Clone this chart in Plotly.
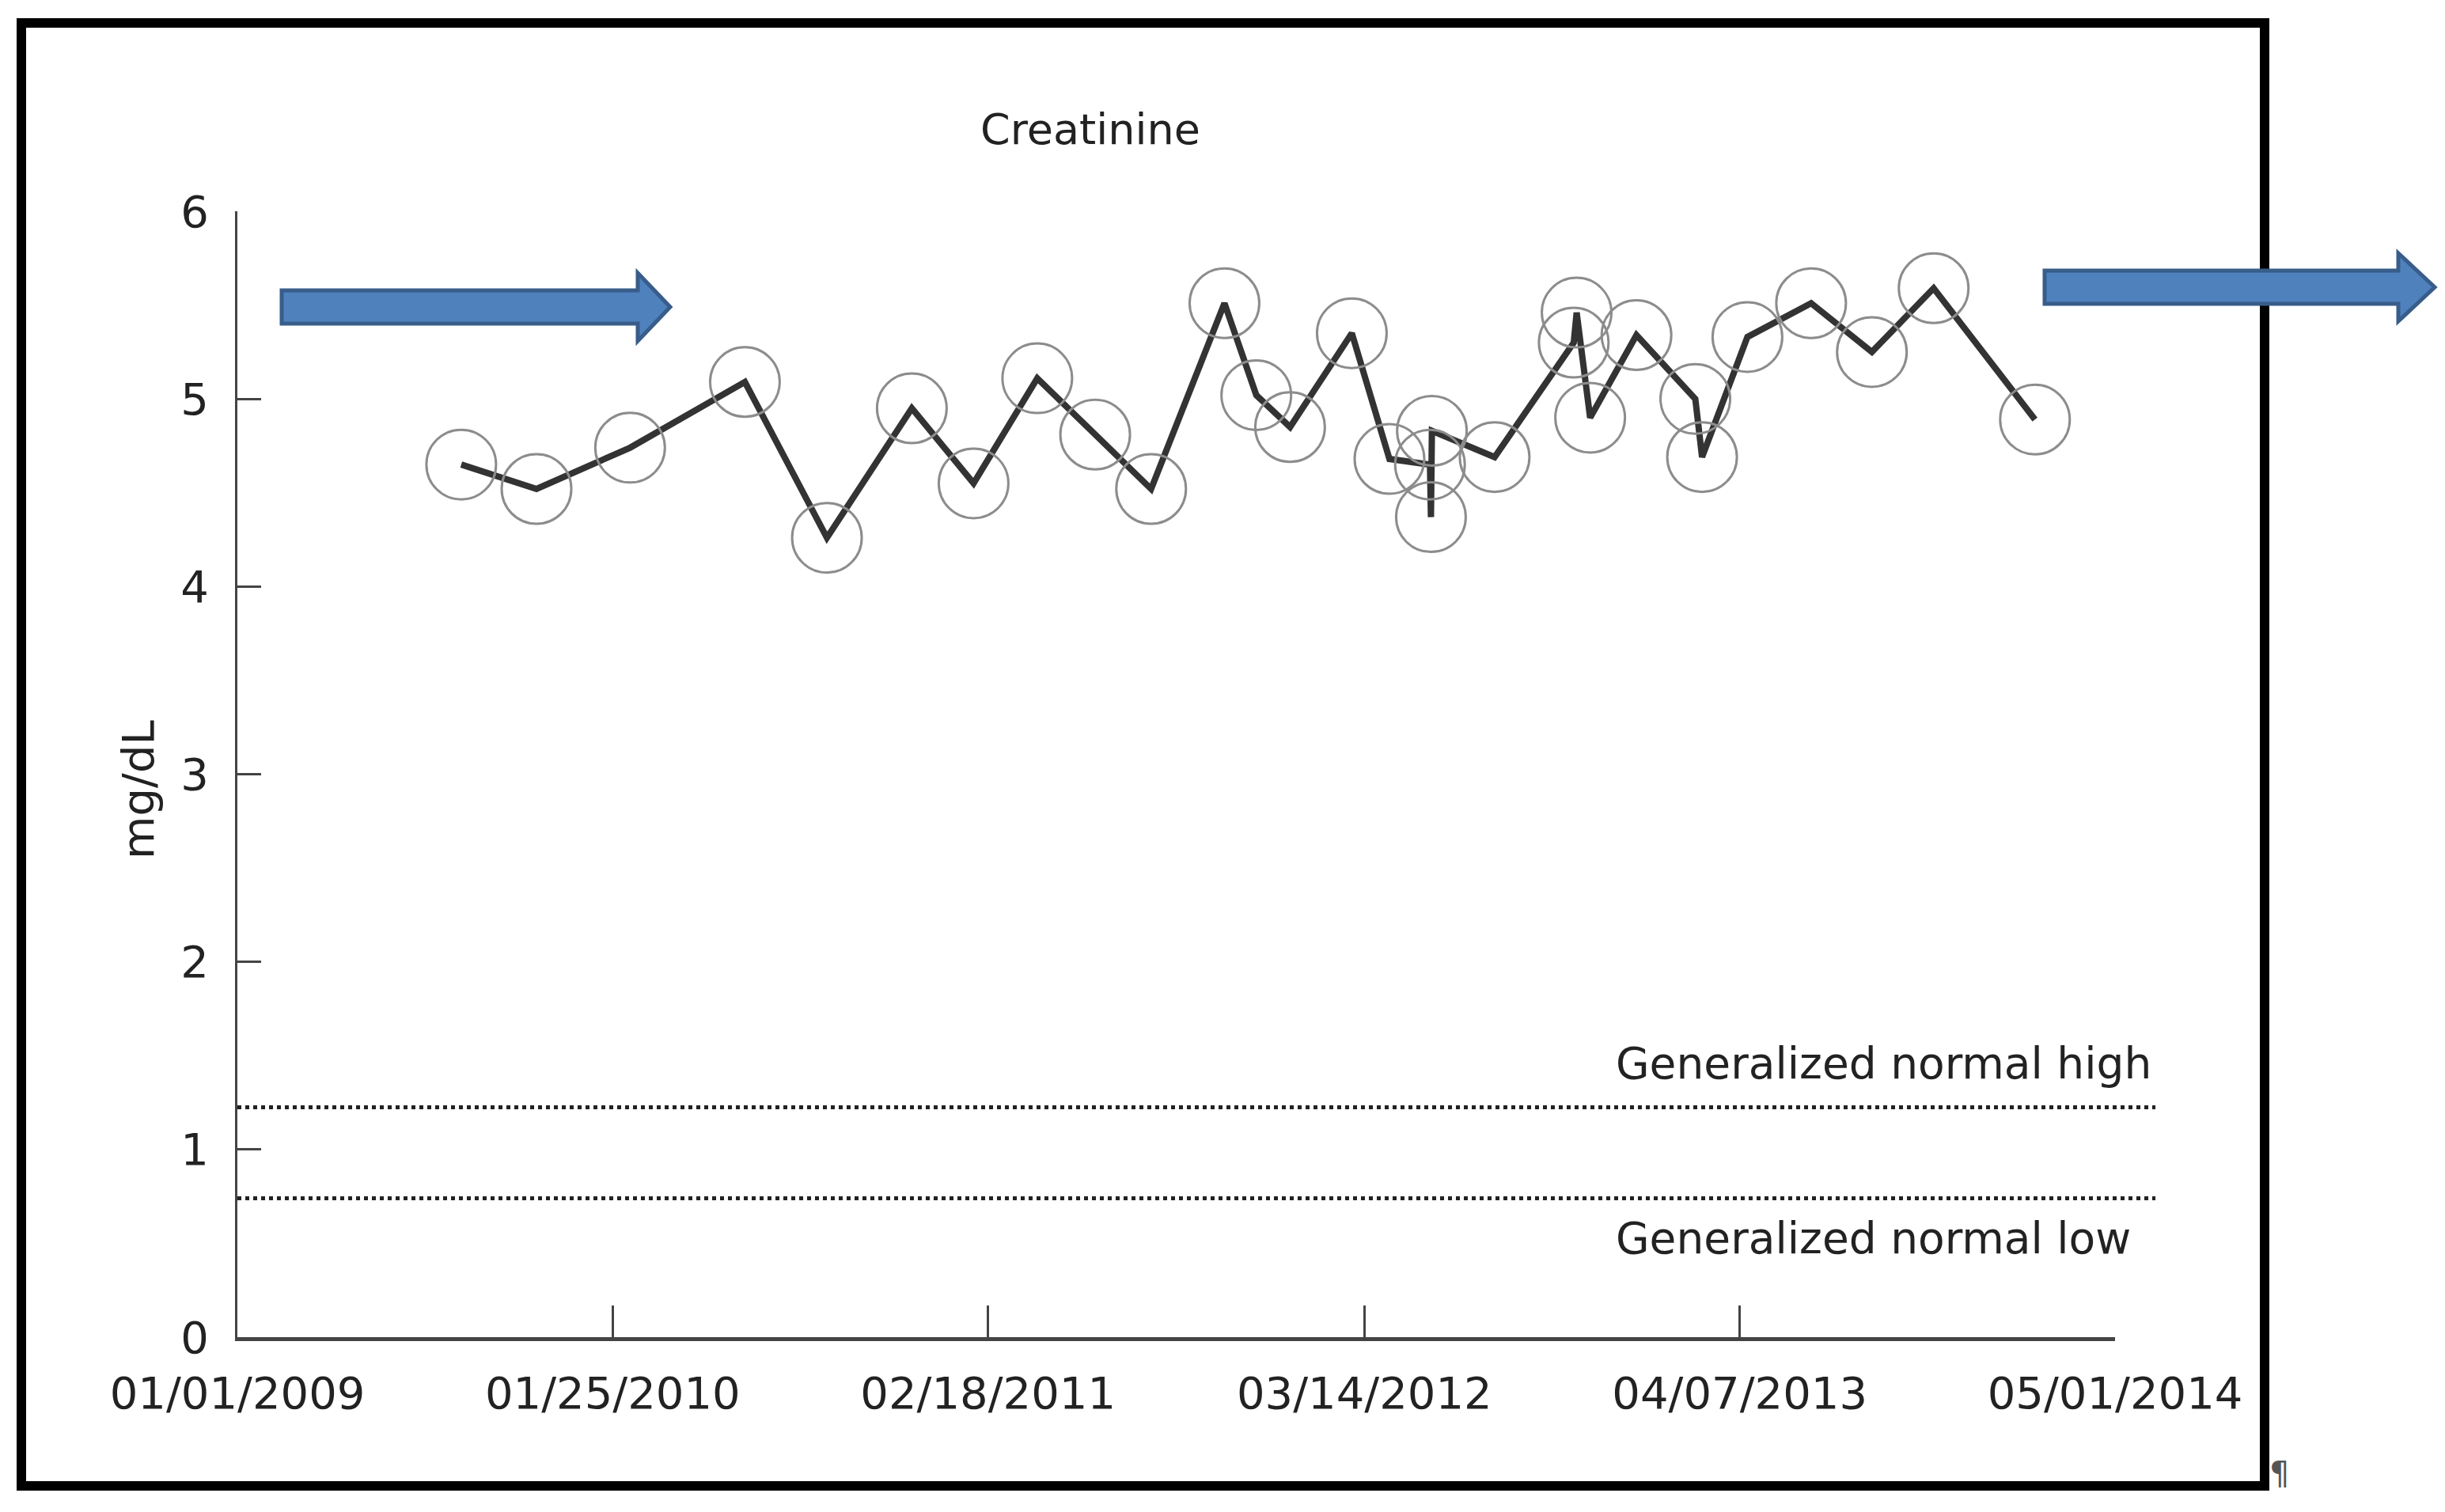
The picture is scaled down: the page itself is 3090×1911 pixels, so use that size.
import plotly.graph_objects as go

dates = [
    "2009-08-21", "2009-11-07", "2010-02-12", "2010-06-11", "2010-09-04",
    "2010-12-01", "2011-02-03", "2011-04-10", "2011-06-09", "2011-08-06",
    "2011-10-21", "2011-11-23", "2011-12-28", "2012-03-01", "2012-04-09",
    "2012-05-21", "2012-05-22", "2012-05-23", "2012-07-27", "2012-10-17",
    "2012-10-20", "2012-11-03", "2012-12-21", "2013-02-20", "2013-02-27",
    "2013-04-15", "2013-06-20", "2013-08-22", "2013-10-25", "2014-02-07",
]
creatinine = [
    4.65, 4.52, 4.74, 5.09, 4.26,
    4.95, 4.55, 5.11, 4.81, 4.52,
    5.51, 5.02, 4.85, 5.35, 4.68,
    4.65, 4.37, 4.83, 4.69, 5.30,
    5.46, 4.90, 5.34, 5.00, 4.69,
    5.33, 5.51, 5.25, 5.59, 4.89,
]

x_ticks = ["2009-01-01", "2010-01-25", "2011-02-18", "2012-03-14", "2013-04-07", "2014-05-01"]
y_ticks = [0, 1, 2, 3, 4, 5, 6]
normal_high = 1.225
normal_low = 0.74

# page is 3090x1911, the html body adds an 8px margin
OFF = 8
W, H = 3090 - 2 * OFF, 1911 - 2 * OFF
ML, MR, MT, MB = 300 - OFF, 417 - OFF, 267 - OFF, 221 - OFF
PW, PH = W - ML - MR, H - MT - MB


def px(X, Y):
    # page pixel -> paper coords
    return (X - OFF - ML) / PW, (H - MB - (Y - OFF)) / PH


def arrow_path(x0, xb, xt, yc, sh, hh):
    pts = [(x0, yc - sh), (xb, yc - sh), (xb, yc - hh), (xt, yc),
           (xb, yc + hh), (xb, yc + sh), (x0, yc + sh)]
    pp = [px(a, b) for a, b in pts]
    return "M " + " L ".join(f"{a:.5f},{b:.5f}" for a, b in pp) + " Z"


FONT = "DejaVu Sans"
TXT = "#222222"

fig = go.Figure()
fig.add_trace(
    go.Scatter(
        x=dates,
        y=creatinine,
        mode="lines+markers",
        line=dict(color="#333333", width=8),
        marker=dict(symbol="circle-open", size=88, color="#8c8c8c",
                    line=dict(width=3, color="#8c8c8c")),
        showlegend=False,
    )
)

shapes = []
# reference range lines
for v in [normal_high, normal_low]:
    shapes.append(dict(type="line", xref="paper", yref="y",
                       x0=0, x1=px(2724, 0)[0], y0=v, y1=v,
                       line=dict(color="#222222", width=5, dash="dot")))

# outer frame
fx0, fy0 = px(27, 1878)
fx1, fy1 = px(2862, 29)
shapes.append(dict(type="rect", xref="paper", yref="paper",
                   x0=fx0, y0=fy0, x1=fx1, y1=fy1,
                   line=dict(color="#000000", width=12)))

# blue block arrows
for x0, xb, xt, yc in [(356, 806, 847, 388), (2584, 3031, 3077, 363)]:
    shapes.append(dict(type="path", xref="paper", yref="paper",
                       path=arrow_path(x0, xb, xt, yc, 21, 43),
                       fillcolor="#4F81BD",
                       line=dict(color="#385D8A", width=5)))

annotations = [
    dict(text="Creatinine", xref="paper", yref="paper",
         x=px(1378, 0)[0], y=px(0, 164)[1], showarrow=False,
         xanchor="center", yanchor="middle",
         font=dict(family=FONT, size=54, color=TXT)),
    dict(text="mg/dL", xref="paper", yref="paper",
         x=px(174, 0)[0], y=px(0, 998)[1], showarrow=False, textangle=-90,
         xanchor="center", yanchor="middle",
         font=dict(family=FONT, size=56, color=TXT)),
    dict(text="Generalized normal high", xref="paper", yref="y",
         x=px(2040, 0)[0], y=1.458, showarrow=False,
         xanchor="left", yanchor="middle",
         font=dict(family=FONT, size=55, color=TXT)),
    dict(text="Generalized normal low", xref="paper", yref="y",
         x=px(2040, 0)[0], y=0.525, showarrow=False,
         xanchor="left", yanchor="middle",
         font=dict(family=FONT, size=55, color=TXT)),
    dict(text="¶", xref="paper", yref="paper",
         x=px(2866, 0)[0], y=px(0, 1862)[1], showarrow=False,
         xanchor="left", yanchor="middle",
         font=dict(family=FONT, size=40, color="#555555")),
]

fig.update_layout(
    width=W,
    height=H,
    margin=dict(l=ML, r=MR, t=MT, b=MB, pad=0),
    paper_bgcolor="white",
    plot_bgcolor="white",
    shapes=shapes,
    annotations=annotations,
    xaxis=dict(
        type="date",
        range=["2009-01-01", "2014-05-01"],
        tickvals=x_ticks,
        tickformat="%m/%d/%Y",
        ticks="inside",
        ticklen=40,
        tickwidth=3,
        tickcolor="#444444",
        showline=True,
        linecolor="#444444",
        linewidth=5,
        showgrid=False,
        zeroline=False,
        ticklabelstandoff=18,
        tickfont=dict(family=FONT, size=56, color=TXT),
    ),
    yaxis=dict(
        range=[0, 6],
        tickvals=y_ticks,
        ticks="inside",
        ticklen=30,
        tickwidth=3,
        tickcolor="#444444",
        showline=True,
        linecolor="#444444",
        linewidth=3,
        showgrid=False,
        zeroline=False,
        ticklabelstandoff=22,
        tickfont=dict(family=FONT, size=56, color=TXT),
    ),
)

fig.write_html("out.html")
